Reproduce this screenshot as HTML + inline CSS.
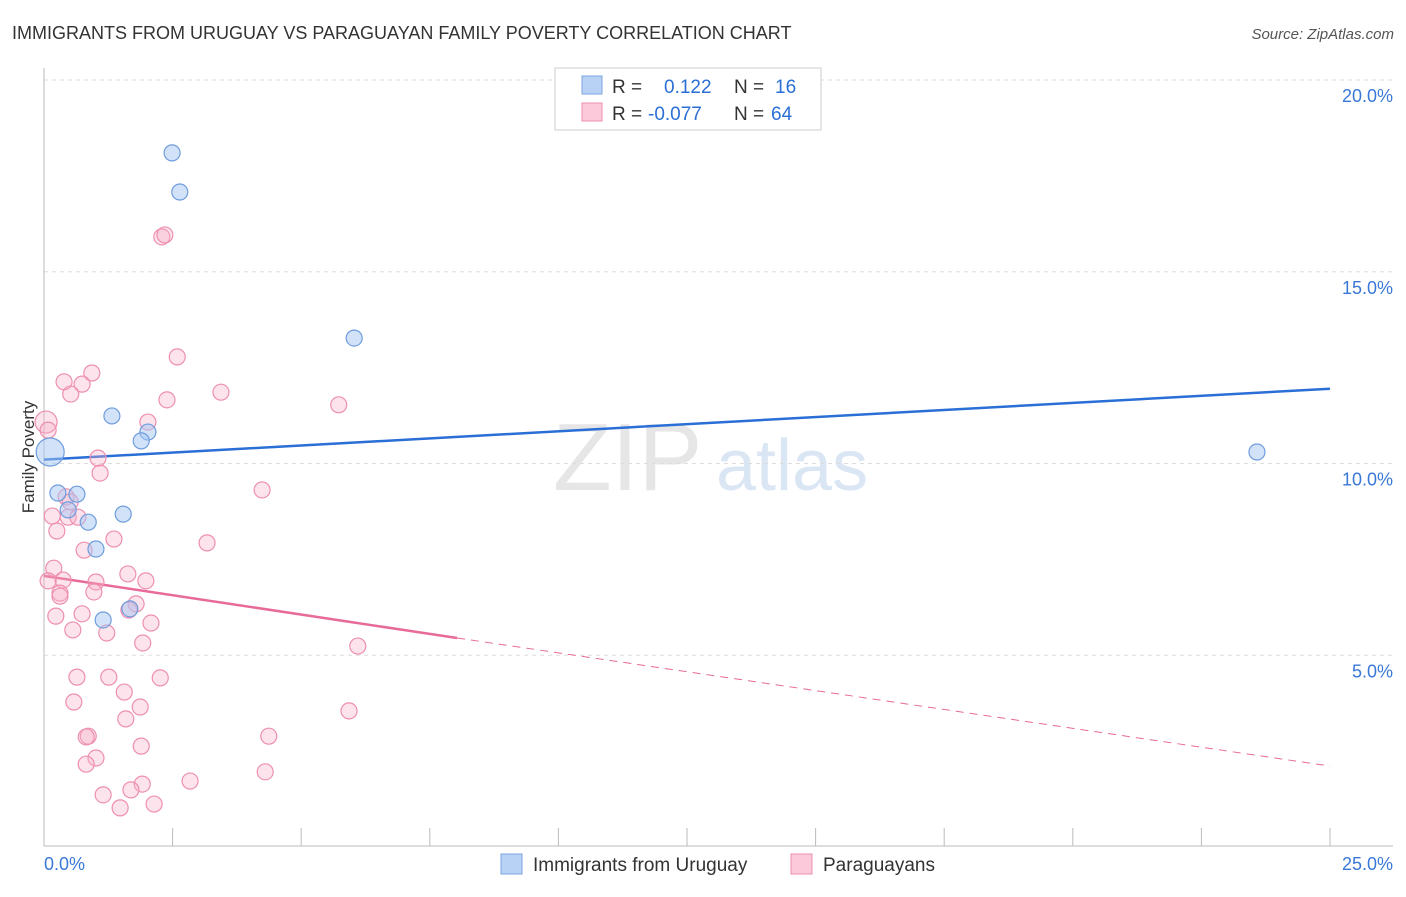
<!DOCTYPE html>
<html><head><meta charset="utf-8"><style>
body{margin:0;background:#fff;font-family:"Liberation Sans",sans-serif}
svg text{font-family:"Liberation Sans",sans-serif}
</style></head><body>
<svg id="chart" width="1406" height="892">
<text x="12" y="39" font-size="18" fill="#333">IMMIGRANTS FROM URUGUAY VS PARAGUAYAN FAMILY POVERTY CORRELATION CHART</text>
<text x="1394" y="39" font-size="15" fill="#555" text-anchor="end" font-style="italic">Source: ZipAtlas.com</text>
<text x="553" y="490" font-size="96" fill="#e6e6e6" font-family="Liberation Serif">ZIP</text>
<text x="716" y="490" font-size="72" fill="#dbe6f5">atlas</text>
<g id="grid"></g>
<g id="axes"></g>
<g id="lines"></g>
<g id="marks"></g>
<text transform="translate(34,457) rotate(-90)" font-size="17" fill="#333" text-anchor="middle">Family Poverty</text>
<g>
<rect x="555" y="68" width="266" height="62" fill="#fff" stroke="#ccc"/>
<rect x="582" y="76" width="20" height="18" fill="#b8d2f5" stroke="#7aa6e0"/>
<rect x="582" y="103" width="20" height="18" fill="#fbc9da" stroke="#ee8fb0"/>
<text x="612" y="93" font-size="19" fill="#333">R = <tspan fill="#2a6fd6" x="664">0.122</tspan><tspan x="734" fill="#333">N = </tspan><tspan fill="#2a6fd6" x="775">16</tspan></text>
<text x="612" y="120" font-size="19" fill="#333">R = <tspan fill="#2a6fd6" x="648">-0.077</tspan><tspan x="734" fill="#333">N = </tspan><tspan fill="#2a6fd6" x="771">64</tspan></text>
</g>
<g>
<rect x="501" y="854" width="21" height="20" fill="#b8d2f5" stroke="#7aa6e0"/>
<text x="533" y="871" font-size="19" fill="#333">Immigrants from Uruguay</text>
<rect x="791" y="854" width="21" height="20" fill="#fbc9da" stroke="#ee8fb0"/>
<text x="823" y="871" font-size="19" fill="#333">Paraguayans</text>
</g>
</svg>
<script>
const xTicks=[0,2.5,5,7.5,10,12.5,15,17.5,20,22.5,25];
const yTicks=[5,10,15,20];
const yTickLabels=["5.0%","10.0%","15.0%","20.0%"];
const xEndLabels=["0.0%","25.0%"];
const uruguayX=[0.12,2.49,2.64,6.03,1.32,2.02,1.89,0.27,0.64,0.47,0.86,1.54,1.01,1.67,1.15,23.58];
const uruguayY=[10.3,18.1,17.08,13.27,11.24,10.82,10.59,9.23,9.2,8.79,8.47,8.68,7.77,6.21,5.92,10.3];
const paraX=[2.29,2.35,2.59,0.93,0.39,0.74,0.52,3.44,2.39,5.73,2.02,0.04,0.08,1.05,1.09,4.24,0.43,0.51,0.16,0.47,0.66,0.25,1.36,3.17,0.78,0.19,1.63,0.37,0.08,1.01,1.98,0.31,0.31,0.97,1.79,1.65,0.74,0.23,2.08,0.56,1.22,1.92,6.1,0.64,1.26,2.26,1.56,0.58,1.87,1.59,5.93,0.86,0.82,4.37,1.89,1.01,0.82,4.3,2.84,1.91,1.69,1.15,1.48,2.14];
const paraY=[15.91,15.96,12.78,12.36,12.13,12.07,11.81,11.86,11.66,11.53,11.08,11.08,10.87,10.14,9.75,9.31,9.13,9.0,8.63,8.6,8.6,8.24,8.03,7.93,7.74,7.27,7.12,6.96,6.94,6.91,6.94,6.62,6.54,6.65,6.34,6.18,6.08,6.02,5.84,5.66,5.58,5.32,5.24,4.43,4.43,4.41,4.04,3.78,3.65,3.34,3.55,2.89,2.87,2.89,2.63,2.32,2.16,1.96,1.72,1.64,1.49,1.36,1.02,1.12];
const uruguayBig=[0];
const paraBig=[11];
const blueTrendX=[0,25], blueTrendY=[10.1,11.95];
const pinkTrendX=[0,8.03,25], pinkTrendY=[7.07,5.45,2.11];

const NS="http://www.w3.org/2000/svg";
const sx=v=>44+v*51.44, sy=v=>847-v*38.35;
function mk(tag,attrs,parent){const e=document.createElementNS(NS,tag);for(const k in attrs)e.setAttribute(k,attrs[k]);document.getElementById(parent).appendChild(e);return e;}
yTicks.forEach((t,i)=>{
 const l=mk('line',{x1:44,x2:1393,y1:sy(t),y2:sy(t),stroke:'#ddd','stroke-dasharray':'4,4'},'grid');
 
 
 const tx=mk('text',{x:1393,y:sy(t)+22,'font-size':18,fill:'#3a78d8','text-anchor':'end'},'axes');
 tx.textContent=yTickLabels[i];
 
 
});
const ax=mk('line',{x1:44,x2:44,y1:68,y2:846,stroke:'#bbb'},'axes');


const bx=mk('line',{x1:44,x2:1393,y1:846,y2:846,stroke:'#bbb'},'axes');


xTicks.forEach(t=>{
 const l=mk('line',{x1:sx(t),x2:sx(t),y1:828,y2:846,stroke:'#bbb'},'axes');
 
 
});
const xl0=mk('text',{x:44,y:870,'font-size':18,fill:'#3a78d8'},'axes');
xl0.textContent=xEndLabels[0];


const xl1=mk('text',{x:1393,y:870,'font-size':18,fill:'#3a78d8','text-anchor':'end'},'axes');
xl1.textContent=xEndLabels[1];



paraX.forEach((x,i)=>{
 const c=mk('circle',{cx:sx(x),cy:sy(paraY[i]),r:paraBig.includes(i)?11:8,fill:'rgba(247,175,200,0.35)',stroke:'#ee8fb0','stroke-width':1.2},'marks');
 
 
});
uruguayX.forEach((x,i)=>{
 const c=mk('circle',{cx:sx(x),cy:sy(uruguayY[i]),r:uruguayBig.includes(i)?14:8,fill:'rgba(165,198,242,0.5)',stroke:'#6f9ddd','stroke-width':1.2},'marks');
 
 
});
const bl=mk('line',{x1:sx(blueTrendX[0]),y1:sy(blueTrendY[0]),x2:sx(blueTrendX[1]),y2:sy(blueTrendY[1]),stroke:'#2a6fd6','stroke-width':2.5},'lines');


const pl=mk('line',{x1:sx(pinkTrendX[0]),y1:sy(pinkTrendY[0]),x2:sx(pinkTrendX[1]),y2:sy(pinkTrendY[1]),stroke:'#e86a98','stroke-width':2.5},'lines');


const pd=mk('line',{x1:sx(pinkTrendX[1]),y1:sy(pinkTrendY[1]),x2:sx(pinkTrendX[2]),y2:sy(pinkTrendY[2]),stroke:'#e86a98','stroke-width':1,'stroke-dasharray':'8,6'},'lines');


</script>
</body></html>
